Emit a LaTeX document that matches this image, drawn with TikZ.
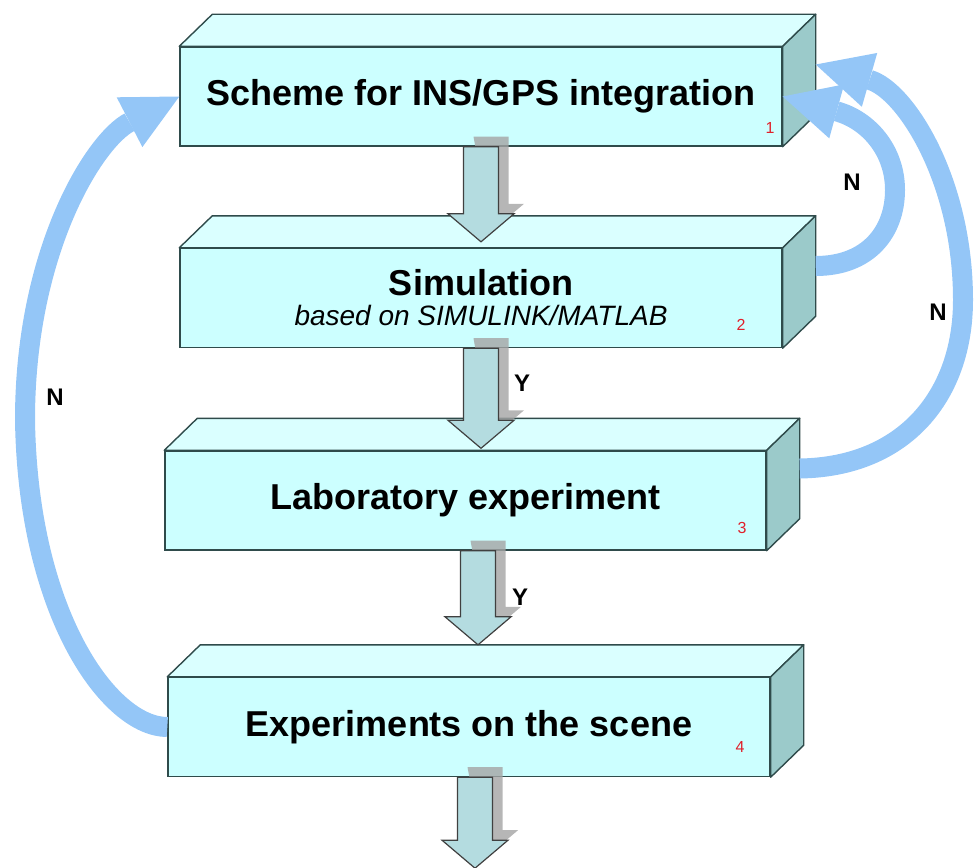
\documentclass[tikz,border=0pt]{standalone}
\usepackage{fontspec}
\setmainfont{Liberation Sans}
\usepackage{tikz}
\usetikzlibrary{arrows.meta,calc}
\usepackage{xcolor}
\definecolor{BoxFront}{HTML}{CCFFFF}
\definecolor{BoxTop}{HTML}{DAFFFF}
\definecolor{BoxSide}{HTML}{9BCACA}
\definecolor{BoxEdge}{HTML}{2F4B4B}
\definecolor{ArrowFill}{HTML}{B4DCE0}
\definecolor{ArrowShade}{HTML}{A4A4A4}
\definecolor{LoopBlue}{HTML}{94C6F7}
\definecolor{TagRed}{HTML}{E0202A}

\tikzset{
  frontface/.style={draw=BoxEdge,line width=1.4pt,fill=BoxFront,minimum width=602pt,minimum height=99pt,
    inner sep=0pt,align=center,font=\fontsize{36}{40}\selectfont\bfseries},
  topface/.style={draw=BoxEdge,line width=1.4pt,fill=BoxTop,line join=round},
  sideface/.style={draw=BoxEdge,line width=1.4pt,fill=BoxSide,line join=round},
  fatarrow/.style={draw=black!75,line width=1.2pt,fill=ArrowFill,line join=miter},
  fatshadow/.style={fill=ArrowShade,fill opacity=0.8},
  loopline/.style={draw=LoopBlue,line width=20pt,-{Triangle[length=56pt,width=56pt,line width=0pt]}},
  tag/.style={text=TagRed,font=\fontsize{16}{18}\selectfont},
  answer/.style={font=\fontsize{24}{28}\selectfont\bfseries},
}

\newcommand{\fatarrow}[2]{%
  \fill[fatshadow] let \p1=(#1), \p2=(#2) in
    (\x2-7.5pt,\y1+10pt) -- (\x2+27.5pt,\y1+10pt) -- (\x2+27.5pt,\y2+38pt)
    -- (\x2+43pt,\y2+38pt) -- (\x2+10pt,\y2+10pt) -- cycle;
  \filldraw[fatarrow] let \p1=(#1), \p2=(#2) in
    (\x2-17.5pt,\y1) -- (\x2+17.5pt,\y1) -- (\x2+17.5pt,\y2+28pt) -- (\x2+33pt,\y2+28pt)
    -- (\x2,\y2) -- (\x2-33pt,\y2+28pt) -- (\x2-17.5pt,\y2+28pt) -- cycle;
}

\begin{document}
\begin{tikzpicture}[x=1pt,y=-1pt]
    \useasboundingbox (0,0) rectangle (974,867);

    \node[frontface] (b1) at (481,96.5) {Scheme for INS/GPS integration};
    \node[frontface] (b2) at (481,298) {Simulation\\[-10pt]{\fontsize{28}{32}\selectfont\mdseries\itshape based on SIMULINK/MATLAB}};
    \node[frontface,minimum width=601pt] (b3) at (465.5,500.5) {Laboratory experiment};
    \node[frontface] (b4) at (469,727) {Experiments on the scene};

    \foreach \b in {b1,b2,b3,b4} {
        \filldraw[topface] (\b.north west) -- ++(33,-32) -- ($(\b.north east)+(33,-32)$) -- (\b.north east) -- cycle;
        \filldraw[sideface] (\b.north east) -- ++(33,-32) -- ($(\b.south east)+(33,-32)$) -- (\b.south east) -- cycle;
        \coordinate (\b-back) at ($(\b.east)+(33,-32)$);
    }

    \node[tag] (t1) at (770,128) {1};
    \node[tag] (t2) at (741,325) {2};
    \node[tag] (t3) at (742,528) {3};
    \node[tag] (t4) at (740,747) {4};

    \coordinate (tip12) at ($(b2.north)+(0,-6)$);
    \coordinate (tip23) at ($(b2.south |- b3.north)+(0,-2)$);
    \coordinate (tip34) at ($(b2.south |- b4.north)+(-3,-32)$);
    \coordinate (out) at ($(b4.south)+(6,91)$);
    \fatarrow{b1.south}{tip12}
    \fatarrow{b2.south}{tip23}
    \fatarrow{b3.south}{tip34}
    \fatarrow{b4.south}{out}

    \draw[loopline] (b4.west) .. controls (110,727) and (28,615) .. (25,420) .. controls (25,250) and (95,140) .. (b1.west);
    \draw[loopline] (b2-back) .. controls (868,266) and (895,232) .. (895,190) .. controls (895,150) and (868,120) .. (b1.east);
    \draw[loopline] (b3-back) .. controls (905,467) and (963,395) .. (963,300) .. controls (963,180) and (905,90) .. (b1-back);

    \node[answer] (n1) at (55,397) {N};
    \node[answer] (n2) at (852,182) {N};
    \node[answer] (n3) at (938,312) {N};
    \node[answer] (y1) at (522,383) {Y};
    \node[answer] (y2) at (520,597) {Y};
\end{tikzpicture}
\end{document}
